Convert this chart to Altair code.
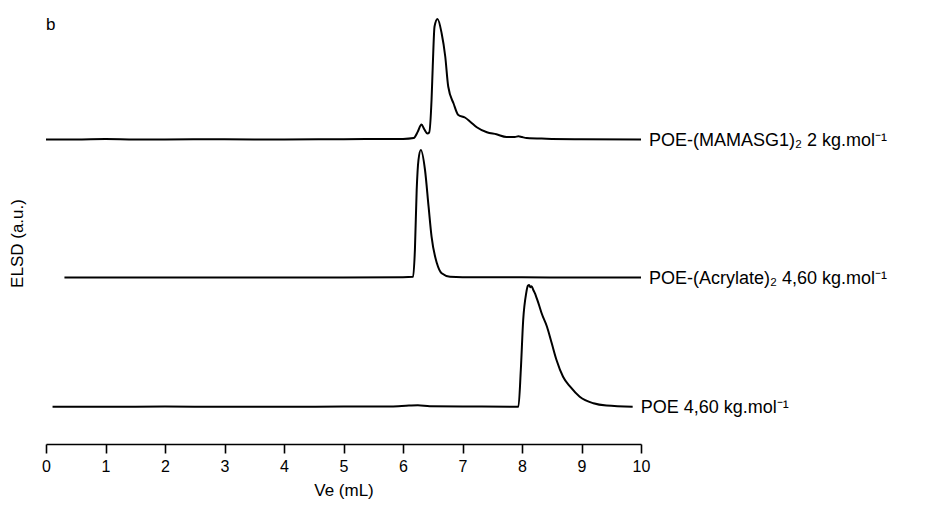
import altair as alt
import pandas as pd

# ---- data ----
series_names = [
    "POE-(MAMASG1)₂ 2 kg.mol⁻¹",
    "POE-(Acrylate)₂ 4,60 kg.mol⁻¹",
    "POE 4,60 kg.mol⁻¹",
]
# vertical offsets of the stacked traces (a.u.)
offsets = [304.5, 166.5, 37.3]

ve_1 = [0.0, 0.5, 1.0, 1.5, 2.0, 3.0, 4.0, 5.0, 5.8, 6.0, 6.18, 6.25, 6.31, 6.36, 6.41, 6.44,
        6.48, 6.50, 6.53, 6.58, 6.65, 6.71, 6.76, 6.85, 6.93, 7.04, 7.13, 7.24, 7.41, 7.57,
        7.74, 7.88, 7.94, 8.0, 8.08, 8.41, 9.0, 10.0]
sig_1 = [0.0, 0.0, 0.4, 0.0, 0.1, 0.2, 0.0, 0.3, 0.5, 0.6, 1.5, 8.0, 15.0, 10.0, 6.0, 7.0,
         40.0, 73.0, 113.0, 120.5, 106.0, 83.0, 53.0, 36.0, 24.5, 22.0, 17.8, 12.2, 7.2, 5.2,
         2.5, 2.6, 3.2, 2.4, 1.5, 0.8, 0.3, 0.0]

ve_2 = [0.31, 1.0, 2.0, 3.0, 4.0, 5.0, 6.0, 6.17, 6.20, 6.23, 6.26, 6.30, 6.37, 6.43, 6.48,
        6.57, 6.65, 6.79, 7.0, 8.0, 9.0, 10.0]
sig_2 = [0.0, 0.0, 0.1, 0.0, 0.1, 0.0, 0.3, 0.8, 27.5, 87.5, 117.5, 127.5, 107.5, 70.8, 40.8,
         14.2, 4.2, 0.8, 0.3, 0.2, 0.0, 0.0]

ve_3 = [0.11, 1.0, 2.0, 3.0, 4.0, 5.0, 5.8, 6.1, 6.25, 6.45, 7.0, 7.94, 7.98, 8.02, 8.07,
        8.10, 8.12, 8.14, 8.16, 8.19, 8.22, 8.25, 8.29, 8.33, 8.42, 8.50, 8.58, 8.69, 8.81,
        8.97, 9.20, 9.42, 9.86]
sig_3 = [0.0, 0.0, 0.1, 0.0, 0.0, 0.1, 0.3, 1.2, 1.5, 0.5, 0.2, 0.0, 36.7, 86.7, 113.4,
         121.0, 121.7, 119.5, 120.5, 116.7, 113.0, 108.0, 101.0, 93.4, 80.0, 63.4, 46.7, 30.0, 20.0,
         10.0, 3.4, 1.1, 0.0]

x_ticks = [i * 0.5 for i in range(21)]

# ---- tables ----
rows = []
for name, off, xs, ys in zip(series_names, offsets, [ve_1, ve_2, ve_3], [sig_1, sig_2, sig_3]):
    for i, (xv, yv) in enumerate(zip(xs, ys)):
        rows.append({"series": name, "ve": xv, "elsd": off + yv, "i": i})
df = pd.DataFrame(rows)

lab = pd.DataFrame({
    "series": series_names,
    "ve": [ve_1[-1], ve_2[-1], ve_3[-1]],
    "elsd": offsets,
})
panel = pd.DataFrame({"t": ["b"]})

FONT = "Liberation Sans"

x_enc = alt.X(
    "ve:Q",
    scale=alt.Scale(domain=[0, 10], nice=False, zero=False),
    axis=alt.Axis(
        title="Ve (mL)",
        values=x_ticks,
        labelExpr="datum.value % 1 === 0 ? format(datum.value, 'd') : ''",
        tickSize={"condition": {"test": "datum.value % 1 === 0", "value": 9}, "value": 5},
        grid=False,
        domainColor="black",
        tickColor="black",
        domainWidth=1.6,
        tickWidth=1.6,
        labelFontSize=16,
        labelColor="black",
        labelPadding=5,
        labelFlush=False,
        titleFontSize=17,
        titleFontWeight="normal",
        titleColor="black",
        titlePadding=8,
    ),
)
y_enc = alt.Y(
    "elsd:Q",
    scale=alt.Scale(domain=[0, 434], nice=False, zero=False),
    axis=alt.Axis(
        title="ELSD (a.u.)",
        domain=False,
        ticks=False,
        labels=False,
        grid=False,
        titleFontSize=17,
        titleFontWeight="normal",
        titleColor="black",
        titleX=-20,
        titleY=233,
    ),
)

lines = alt.Chart(df).mark_line(
    color="black", strokeWidth=2, interpolate="monotone"
).encode(
    x=x_enc,
    y=y_enc,
    detail="series:N",
    order="i:Q",
)

labels = alt.Chart(lab).mark_text(
    align="left", baseline="middle", dx=8, dy=1, fontSize=18, color="black", font=FONT
).encode(
    x="ve:Q",
    y="elsd:Q",
    text="series:N",
)

panel_label = alt.Chart(panel).mark_text(
    align="left", baseline="bottom", fontSize=17, color="black", font=FONT
).encode(
    x=alt.value(0),
    y=alt.value(24),
    text="t:N",
)

chart = alt.layer(lines, labels, panel_label).properties(
    width=595,
    height=434,
    autosize=alt.AutoSizeParams(type="none"),
    padding={"left": 38, "top": 2, "right": 275, "bottom": 60},
).configure(
    font=FONT,
).configure_view(
    stroke=None,
)

chart.save("out.html", embed_options={"renderer": "svg", "actions": False})
